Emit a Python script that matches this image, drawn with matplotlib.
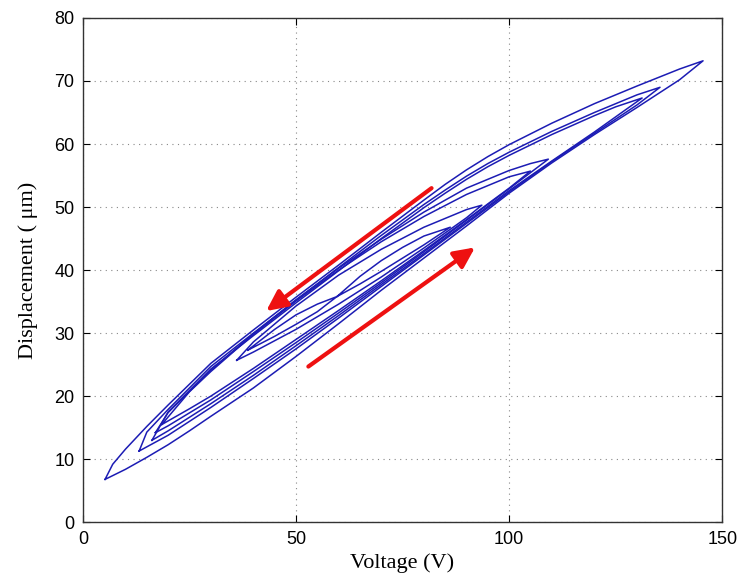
import matplotlib
matplotlib.use("Agg")
import matplotlib.pyplot as plt
import numpy as np

# hysteresis loops: rising branch (low tip -> high tip), falling branch (high tip -> low tip)
loop1_rise = [(5.2, 6.8), (10, 8.4), (15, 10.3), (20, 12.3), (25, 14.5), (30, 16.8), (40, 21.3),
              (50, 26.3), (60, 31.5), (70, 36.8), (80, 41.9), (90, 47.0), (100, 52.2), (110, 57.0),
              (120, 61.5), (130, 65.8), (140, 70.2), (145.5, 73.2)]
loop1_fall = [(145.5, 73.2), (140, 71.9), (130, 69.2), (120, 66.4), (110, 63.3), (100, 59.9),
              (95, 58.0), (90, 55.9), (85, 53.6), (80, 51.1), (70, 46.0), (60, 40.8), (50, 35.7),
              (40, 30.5), (30, 25.2), (20, 18.6), (15, 15.2), (10, 11.6), (7, 9.2), (5.2, 6.8)]

loop2_rise = [(13.2, 11.3), (20, 13.8), (30, 18.2), (40, 22.8), (50, 27.5), (60, 32.4), (70, 37.4),
              (80, 42.4), (90, 47.4), (100, 52.4), (110, 57.2), (120, 61.7), (130, 66.2), (135.4, 69.0)]
loop2_fall = [(135.4, 69.0), (130, 67.8), (120, 65.0), (110, 62.0), (100, 58.7), (95, 56.9),
              (90, 54.9), (85, 52.7), (80, 50.4), (70, 45.5), (60, 40.4), (50, 35.2), (40, 30.0),
              (30, 24.7), (20, 17.9), (15, 14.3), (13.2, 11.3)]

loop3_rise = [(16.2, 13.0), (20, 14.5), (30, 18.8), (40, 23.3), (50, 28.0), (60, 32.8), (70, 37.7),
              (80, 42.6), (90, 47.6), (100, 52.6), (110, 57.3), (120, 61.9), (131.2, 67.3)]
loop3_fall = [(131.2, 67.3), (125, 65.9), (120, 64.5), (110, 61.5), (100, 58.2), (95, 56.4),
              (90, 54.4), (85, 52.2), (80, 49.9), (70, 45.0), (60, 39.9), (50, 34.8), (40, 29.6),
              (30, 24.3), (20, 17.5), (16.2, 13.0)]

loop4_rise = [(17, 14.2), (20, 15.3), (30, 19.4), (40, 23.9), (50, 28.5), (60, 33.2), (70, 38.0),
              (80, 42.9), (90, 47.9), (100, 52.9), (109.2, 57.6)]
loop4_fall = [(109.2, 57.6), (105, 56.9), (100, 55.8), (90, 53.0), (80, 49.2), (70, 44.9),
              (60, 40.3), (50, 35.3), (40, 29.9), (30, 24.1), (20, 17.4), (17, 14.2)]

loop5_rise = [(18.5, 15.5), (25, 18.0), (30, 20.0), (40, 24.4), (50, 29.0), (60, 33.6), (70, 38.3),
              (80, 43.1), (90, 48.0), (100, 53.0), (105, 55.7)]
loop5_fall = [(105, 55.7), (100, 54.8), (90, 52.0), (80, 48.5), (70, 44.5), (60, 40.0), (50, 35.1),
              (40, 29.8), (30, 23.9), (25, 20.7), (18.5, 15.5)]

loop6_rise = [(36.1, 25.7), (40, 27.0), (50, 30.6), (60, 34.6), (70, 38.9), (80, 43.5), (90, 48.3),
              (93.6, 50.3)]
loop6_fall = [(93.6, 50.3), (90, 49.6), (80, 46.8), (70, 43.3), (60, 39.2), (50, 34.3), (40, 28.6),
              (36.1, 25.7)]

# two thin minor loops in the middle of the sweep
loop7_rise = [(38.7, 27.3), (45, 29.5), (50, 31.4), (55, 33.4), (59.6, 35.8)]
loop7_fall = [(59.6, 35.8), (55, 34.6), (50, 32.9), (45, 30.6), (38.7, 27.3)]

loop8_rise = [(59.6, 35.8), (65, 37.8), (70, 39.8), (75, 41.9), (80, 44.0), (86.2, 46.8)]
loop8_fall = [(86.2, 46.8), (80, 45.4), (75, 43.6), (70, 41.5), (65, 39.0), (59.6, 35.8)]

loops = [(loop1_rise, loop1_fall), (loop2_rise, loop2_fall), (loop3_rise, loop3_fall),
         (loop4_rise, loop4_fall), (loop5_rise, loop5_fall), (loop6_rise, loop6_fall),
         (loop7_rise, loop7_fall), (loop8_rise, loop8_fall)]

# direction arrows (tail, head) in volts / micrometres
arrow_down = ((81.8, 53.0), (43.0, 33.5))
arrow_up = ((52.9, 24.7), (92.0, 43.6))

x_ticks = [0, 50, 100, 150]
y_ticks = [0, 10, 20, 30, 40, 50, 60, 70, 80]

fig = plt.figure(figsize=(7.4, 5.79), dpi=100)
ax = fig.add_axes([0.112, 0.098, 0.864, 0.871])

for rise, fall in loops:
    pts = np.array(rise + fall[1:])
    ax.plot(pts[:, 0], pts[:, 1], color='#1c1cb4', lw=1.1, solid_joinstyle='round')

for (x0, y0), (x1, y1) in [arrow_down, arrow_up]:
    ax.annotate('', xy=(x1, y1), xytext=(x0, y0),
                arrowprops=dict(arrowstyle='-|>,head_length=1.25,head_width=0.6',
                                color='#ee1111', lw=3, shrinkA=0, shrinkB=0))

ax.set_xlim(0, 150)
ax.set_ylim(0, 80)
ax.set_xticks(x_ticks)
ax.set_yticks(y_ticks)
ax.grid(True, color='#888888', linestyle=(0, (1, 4)), linewidth=0.8)
ax.tick_params(direction='in', top=True, right=True, length=5, labelsize=13, pad=6,
               labelfontfamily='Liberation Sans')
for s in ax.spines.values():
    s.set_color('#333333')
    s.set_linewidth(1.0)

ax.set_xlabel('Voltage (V)', family='Liberation Serif', fontsize=16, labelpad=4)
ax.set_ylabel('Displacement ( \u03bcm)', family='Liberation Serif', fontsize=16, labelpad=12)

fig.savefig('out.png', dpi=100)
